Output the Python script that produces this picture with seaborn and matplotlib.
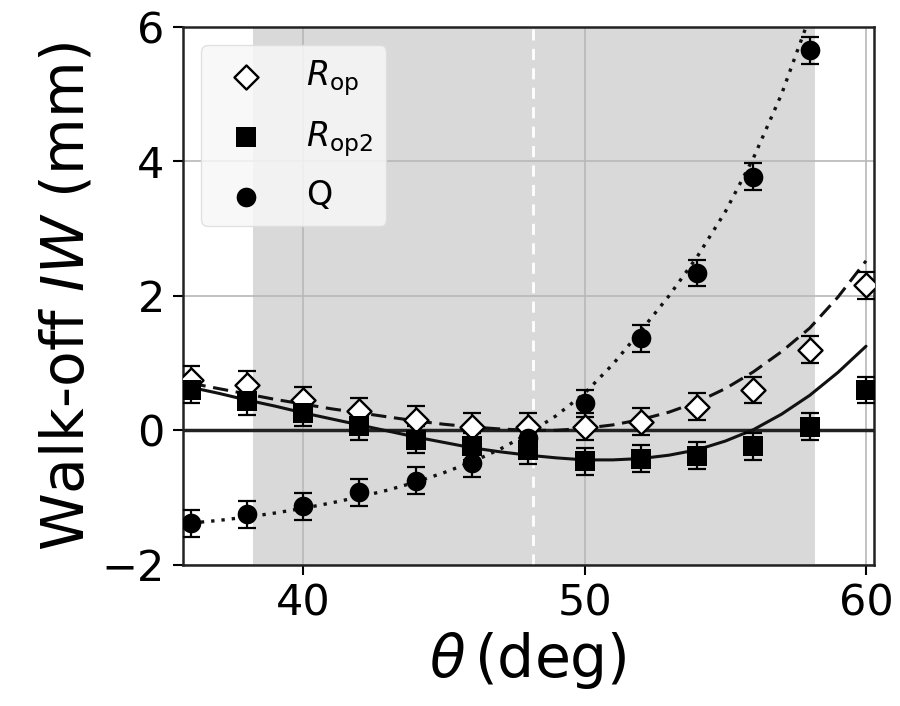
import numpy as np
import pandas as pd
import matplotlib
matplotlib.use("Agg")
import matplotlib.pyplot as plt
import seaborn as sns

# measured points
theta = [36, 38, 40, 42, 44, 46, 48, 50, 52, 54, 56, 58, 60]
rop = [0.75, 0.68, 0.45, 0.28, 0.16, 0.05, 0.05, 0.05, 0.13, 0.35, 0.60, 1.20, 2.16]
rop2 = [0.60, 0.43, 0.26, 0.06, -0.14, -0.24, -0.30, -0.46, -0.42, -0.38, -0.24, 0.05, 0.60]
theta_q = [36, 38, 40, 42, 44, 46, 48, 50, 52, 54, 56, 58]
q = [-1.38, -1.25, -1.13, -0.92, -0.75, -0.49, -0.12, 0.40, 1.37, 2.34, 3.77, 5.65]
err = 0.2

# model curves
theta_fit = [36, 37, 38, 39, 40, 41, 42, 43, 44, 45, 46, 47, 48,
             49, 50, 51, 52, 53, 54, 55, 56, 57, 58, 59, 60]
rop_fit = [0.70, 0.62, 0.54, 0.46, 0.39, 0.32, 0.26, 0.20, 0.14, 0.09, 0.05, 0.02, 0.00,
           0.00, 0.03, 0.08, 0.16, 0.27, 0.42, 0.62, 0.87, 1.17, 1.52, 1.98, 2.52]
rop2_fit = [0.64, 0.55, 0.45, 0.36, 0.26, 0.17, 0.08, -0.01, -0.10, -0.18, -0.26, -0.32, -0.37,
            -0.41, -0.44, -0.44, -0.42, -0.37, -0.29, -0.16, 0.01, 0.24, 0.52, 0.86, 1.25]
q_fit = [-1.38, -1.34, -1.29, -1.23, -1.16, -1.08, -0.99, -0.89, -0.77, -0.63, -0.47, -0.28, -0.05,
         0.22, 0.55, 0.98, 1.48, 2.00, 2.58, 3.25, 4.05, 5.00, 6.15, 7.4, 8.8]

span = (38.23, 58.2)
theta_c = 48.17

sns.set_theme(style="whitegrid")
plt.rcParams.update({
    "axes.edgecolor": "#222222",
    "axes.linewidth": 1.8,
    "grid.color": "#b8b8b8",
    "grid.linewidth": 1.2,
    "xtick.bottom": True,
    "ytick.left": True,
    "xtick.major.size": 7,
    "ytick.major.size": 7,
    "xtick.major.width": 1.5,
    "ytick.major.width": 1.5,
    "xtick.color": "black",
    "ytick.color": "black",
    "text.color": "black",
    "axes.labelcolor": "black",
    "axes.unicode_minus": True,
})
plt.rcParams["font.family"] = ["DejaVu Sans"]

fig = plt.figure(figsize=(9, 7.06), dpi=100)
ax = fig.add_axes([0.203, 0.2, 0.768, 0.762])
ax.set_axisbelow(True)

ax.axvspan(*span, color="#d9d9d9", lw=0, zorder=0)
ax.axvline(theta_c, color="white", lw=2, linestyle=(0, (4, 3)), zorder=1)
ax.axhline(0, color="#222222", lw=2.5, zorder=2)

fits = pd.DataFrame({"theta": theta_fit, "rop": rop_fit, "rop2": rop2_fit, "q": q_fit})
sns.lineplot(data=fits, x="theta", y="rop", ax=ax, color="#111111", lw=2.2,
             linestyle=(0, (5, 2.5)), zorder=3)
sns.lineplot(data=fits, x="theta", y="rop2", ax=ax, color="#111111", lw=2.2, zorder=3)
sns.lineplot(data=fits, x="theta", y="q", ax=ax, color="#111111", lw=2.4,
             linestyle=(0, (1, 2.1)), zorder=3)

ebk = dict(fmt="none", ecolor="black", elinewidth=1.6, capsize=6.5, capthick=1.6, zorder=4)
ax.errorbar(theta, rop, yerr=err, **ebk)
ax.errorbar(theta, rop2, yerr=err, **ebk)
ax.errorbar(theta_q, q, yerr=err, **ebk)

sns.scatterplot(x=theta, y=rop, ax=ax, marker="D", s=150, color="white",
                edgecolor="black", linewidth=1.7, zorder=5, label=r"$R_{\rm op}$")
sns.scatterplot(x=theta, y=rop2, ax=ax, marker="s", s=210, color="black",
                edgecolor="black", linewidth=0, zorder=5, label=r"$R_{\rm op2}$")
sns.scatterplot(x=theta_q, y=q, ax=ax, marker="o", s=200, color="black",
                edgecolor="black", linewidth=0, zorder=5, label="Q")

ax.set_xlim(35.72, 60.28)
ax.set_ylim(-2, 6)
ax.set_xticks([40, 50, 60])
ax.set_yticks([-2, 0, 2, 4, 6])
ax.tick_params(labelsize=31, pad=6)
ax.set_xlabel(r"$\theta\,$(deg)", fontsize=42)
ax.set_ylabel(r"Walk-off $IW$ (mm)", fontsize=42)

leg = ax.legend(loc="upper left", fontsize=24, borderpad=0.4, labelspacing=0.62,
                handlelength=1.9, handletextpad=0.85, borderaxespad=0.55,
                frameon=True, fancybox=True)
leg.get_frame().set_facecolor("#f7f7f7")
leg.get_frame().set_alpha(0.85)
leg.get_frame().set_edgecolor("#dddddd")

fig.savefig("out.png", dpi=100)
